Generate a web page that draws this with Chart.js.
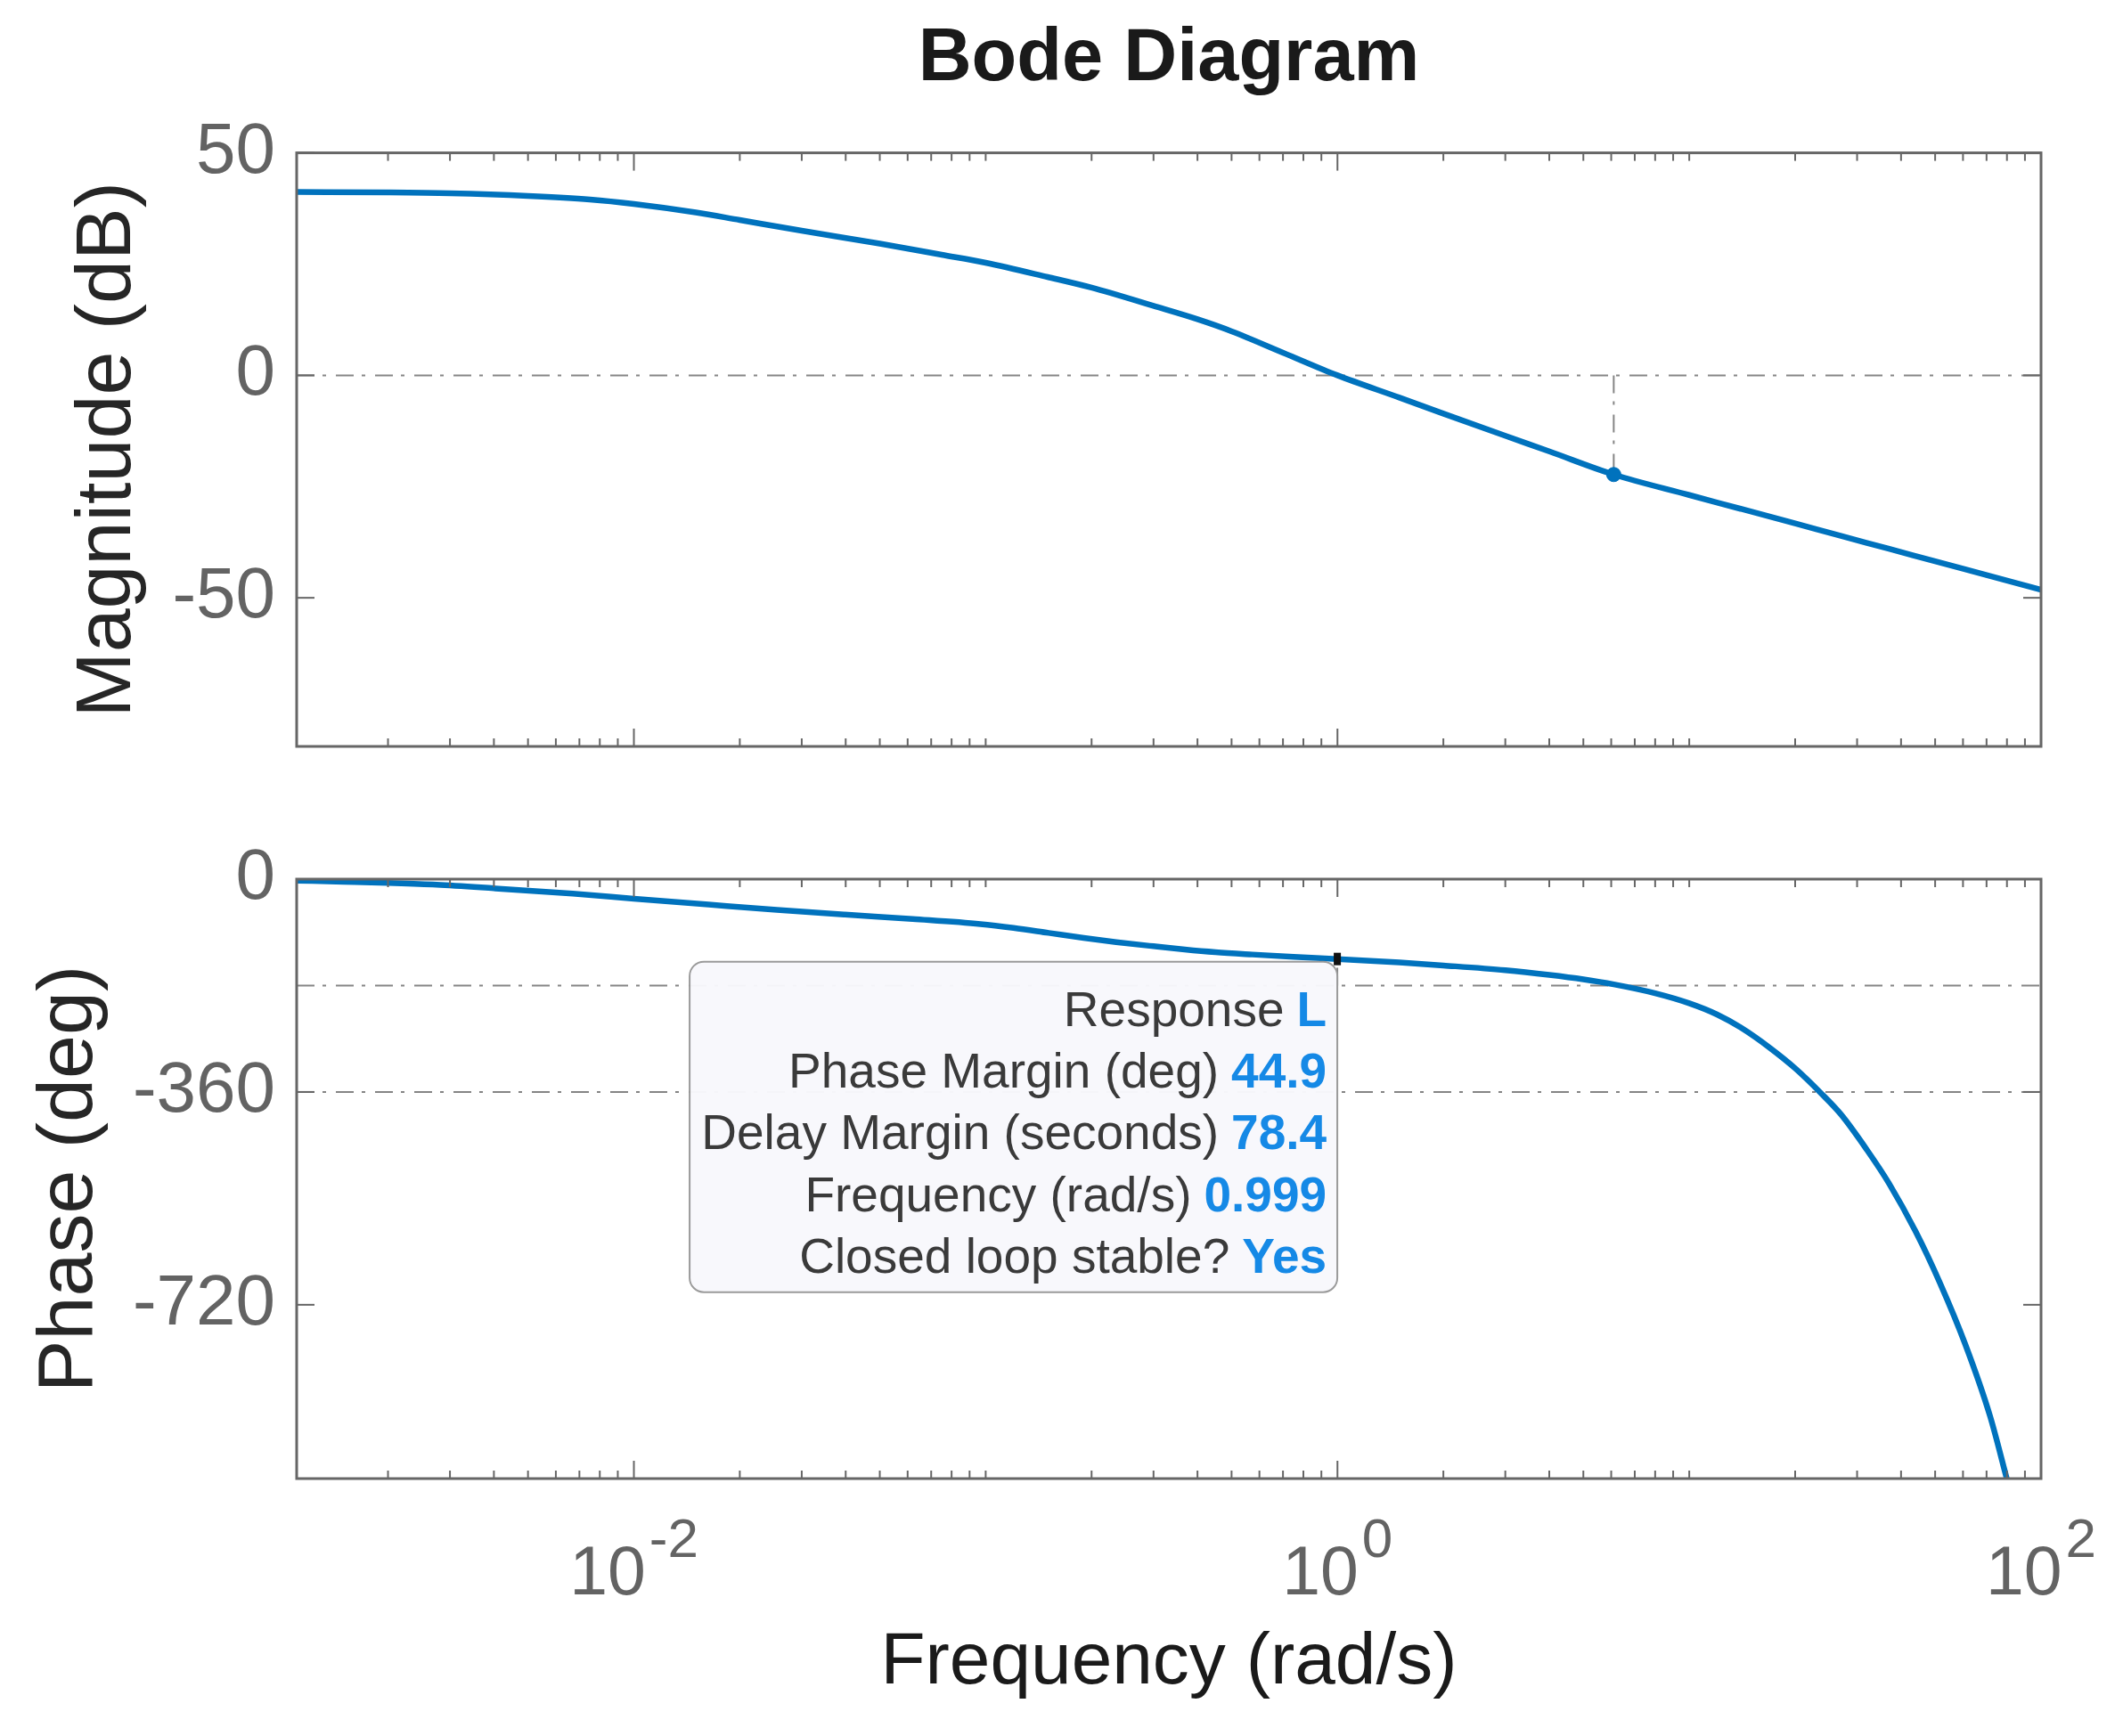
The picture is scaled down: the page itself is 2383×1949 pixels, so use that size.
<!DOCTYPE html>
<html>
<head>
<meta charset="utf-8">
<title>Bode Diagram</title>
<script src="https://cdn.jsdelivr.net/npm/chart.js@4.4.1/dist/chart.umd.min.js"></script>
<style>
  html, body { margin: 0; padding: 0; background: #fff; }
  #wrap { position: relative; width: 2383px; height: 1949px; overflow: hidden; }
  canvas { position: absolute; left: 0; }
  #magCanvas { top: 0; }
  #phaseCanvas { top: 900px; }
</style>
</head>
<body>
<div id="wrap">
  <canvas id="magCanvas" width="2383" height="910"></canvas>
  <canvas id="phaseCanvas" width="2383" height="1049"></canvas>
</div>
<script>
// values
var freq  = [0.0011, 0.002, 0.003, 0.005, 0.0075, 0.01, 0.015, 0.02, 0.03, 0.05, 0.075, 0.1, 0.15, 0.2, 0.3, 0.4, 0.5, 0.7, 1.0, 1.5, 2, 3, 4, 6.1, 10, 14, 20, 27, 37, 50, 70, 100];
var magDb = [41.2, 41.1, 40.9, 40.3, 39.5, 38.5, 36.6, 34.9, 32.5, 29.6, 27.1, 25.3, 22.1, 19.7, 15.6, 12.6, 9.9, 5.1, 0, -5.0, -8.6, -13.6, -17.1, -22.3, -26.9, -30.0, -33.3, -36.1, -39.0, -41.8, -44.9, -48.2];

var phaseFreq = [0.0011, 0.0015, 0.002, 0.00275, 0.004, 0.0067, 0.01, 0.0163, 0.0255, 0.0398, 0.062, 0.0966, 0.12, 0.151, 0.19, 0.235, 0.3, 0.368, 0.45, 0.573, 0.75, 1.0, 1.5, 2, 3, 4, 5, 6.1, 8, 10, 12, 14, 17, 20, 23.5, 27, 32, 37, 44, 51.5, 61, 71.6, 80.4, 85];
var phaseDeg  = [-2.5, -4.5, -6.5, -9.5, -15.5, -24.6, -33, -43, -52, -60, -67.5, -76, -82.5, -91, -99.5, -106.5, -113.5, -119, -123.5, -127.5, -131.5, -135.1, -141, -146, -154, -162, -169.5, -178, -193, -210, -229, -251, -286, -320, -360, -398, -458, -515, -596, -682, -788, -908, -1020, -1073];

var xRange = [0.0011, 100];
var magRange = [-83.4, 50];
var phaseRange = [-1014, 0];
var magTicks = [-50, 0, 50];
var phaseTicks = [-720, -360, 0];
var xLabelExps = [-2, 0, 2];

// stability margins
var gmFreq = 6.1, gmDb = -22.3;
var pmFreq = 0.999, pmDeg = -135.1;
var magRefLine = 0;
var phaseRefLines = [-180, -360];

var tipLabels = ['Response', 'Phase Margin (deg)', 'Delay Margin (seconds)', 'Frequency (rad/s)', 'Closed loop stable?'];
var tipValues = ['L', '44.9', '78.4', '0.999', 'Yes'];

var FONT = '"Liberation Sans", Arial, Helvetica, sans-serif';
var BLUE = '#0072BD';
var DASHDOT = [20, 9, 4, 11];

function pts(xs, ys) {
  return xs.map(function (x, i) { return {x: x, y: ys[i]}; });
}

function refLine(data) {
  return {
    data: data, borderColor: '#858585', borderWidth: 2, borderDash: DASHDOT,
    pointRadius: 0, fill: false, clip: 0
  };
}

// box, inward ticks and log minor ticks like a MATLAB axes
var axesBox = {
  id: 'axesBox',
  afterDatasetsDraw: function (chart, args, opts) {
    var ctx = chart.ctx, a = chart.chartArea, xs = chart.scales.x, ys = chart.scales.y;
    ctx.save();
    ctx.strokeStyle = '#666';
    ctx.lineWidth = 2;
    function seg(x1, y1, x2, y2) {
      ctx.beginPath(); ctx.moveTo(x1, y1); ctx.lineTo(x2, y2); ctx.stroke();
    }
    opts.yTicks.forEach(function (v) {
      var y = ys.getPixelForValue(v);
      seg(a.left, y, a.left + 20, y);
      seg(a.right - 20, y, a.right, y);
    });
    var e0 = Math.floor(Math.log10(xs.min)), e1 = Math.ceil(Math.log10(xs.max));
    for (var e = e0; e <= e1; e++) {
      for (var m = 1; m <= 9; m++) {
        var v = m * Math.pow(10, e);
        if (v < xs.min * 0.999 || v > xs.max * 1.001) continue;
        var len = (m === 1 && xLabelExps.indexOf(e) >= 0) ? 20 : 9;
        var x = xs.getPixelForValue(v);
        seg(x, a.bottom, x, a.bottom - len);
        seg(x, a.top, x, a.top + len);
      }
    }
    ctx.lineWidth = 3;
    ctx.strokeRect(a.left, a.top, a.right - a.left, a.bottom - a.top);
    ctx.restore();
  }
};

// 10^k labels under the phase axes
var expLabels = {
  id: 'expLabels',
  afterDraw: function (chart) {
    var ctx = chart.ctx, a = chart.chartArea, xs = chart.scales.x;
    ctx.save();
    ctx.fillStyle = '#636363';
    ctx.textBaseline = 'alphabetic';
    ctx.textAlign = 'left';
    xLabelExps.forEach(function (k) {
      var base = '10', sup = String(k);
      ctx.font = '77px ' + FONT;
      var bw = ctx.measureText(base).width;
      ctx.font = '62px ' + FONT;
      var sw = ctx.measureText(sup).width;
      var x0 = xs.getPixelForValue(Math.pow(10, k)) - (bw + sw + 4) / 2;
      ctx.font = '77px ' + FONT;
      ctx.fillText(base, x0, a.bottom + 130);
      ctx.font = '62px ' + FONT;
      ctx.fillText(sup, x0 + bw + 4, a.bottom + 88);
    });
    ctx.restore();
  }
};

// MATLAB style data tip for the phase margin
var dataTip = {
  id: 'dataTip',
  afterDatasetsDraw: function (chart) {
    var ctx = chart.ctx;
    var ax = chart.scales.x.getPixelForValue(pmFreq);
    var ay = chart.scales.y.getPixelForValue(pmDeg);
    var w = 727, h = 371, left = ax - w, top = ay + 3;
    ctx.save();
    ctx.beginPath();
    ctx.roundRect(left, top, w, h, 16);
    ctx.fillStyle = 'rgba(248,248,252,0.97)';
    ctx.fill();
    ctx.strokeStyle = '#9a9a9a';
    ctx.lineWidth = 2;
    ctx.stroke();
    ctx.textBaseline = 'alphabetic';
    ctx.textAlign = 'right';
    var rx = ax - 12;
    tipLabels.forEach(function (lab, i) {
      var by = top + 72 + i * 69.3;
      ctx.font = 'bold 55px ' + FONT;
      var vw = ctx.measureText(tipValues[i]).width;
      ctx.fillStyle = '#1589e6';
      ctx.fillText(tipValues[i], rx, by);
      ctx.font = '55px ' + FONT;
      ctx.fillStyle = '#3a3a3a';
      ctx.fillText(lab, rx - vw - 14, by);
    });
    ctx.fillStyle = '#111';
    ctx.fillRect(ax - 4, ay - 7, 8, 14);
    ctx.restore();
  }
};

function yScale(range, ticks, titleText, leftPad) {
  return {
    type: 'linear', min: range[0], max: range[1],
    afterBuildTicks: function (s) { s.ticks = ticks.map(function (v) { return {value: v}; }); },
    afterFit: function (s) { s.width = 333 - leftPad; },
    grid: {display: false, drawTicks: false},
    border: {display: false},
    ticks: {
      padding: 24, color: '#636363', font: {family: FONT, size: 80},
      callback: function (v) { return String(v); }
    },
    title: {display: true, text: titleText, color: '#262626', padding: 0, font: {family: FONT, size: 88}}
  };
}

var magChart = new Chart(document.getElementById('magCanvas'), {
  type: 'line',
  data: {
    datasets: [
      {data: pts(freq, magDb), borderColor: BLUE, borderWidth: 6.5, pointRadius: 0, cubicInterpolationMode: 'monotone', clip: 0},
      {data: [{x: gmFreq, y: gmDb}], borderColor: BLUE, backgroundColor: BLUE, pointRadius: 8, showLine: false},
      refLine([{x: xRange[0], y: magRefLine}, {x: xRange[1], y: magRefLine}]),
      refLine([{x: gmFreq, y: magRefLine}, {x: gmFreq, y: gmDb}])
    ]
  },
  options: {
    responsive: false, animation: false, events: [],
    layout: {padding: {left: 69, right: 92, top: 0, bottom: 60}},
    plugins: {
      legend: {display: false}, tooltip: {enabled: false},
      title: {
        display: true, text: 'Bode Diagram', fullSize: false, color: '#1a1a1a',
        font: {family: FONT, size: 83, weight: 'bold'}, padding: {top: 17, bottom: 55}
      },
      axesBox: {yTicks: magTicks}
    },
    scales: {
      x: {type: 'logarithmic', min: xRange[0], max: xRange[1], display: false},
      y: yScale(magRange, magTicks, 'Magnitude (dB)', 69)
    }
  },
  plugins: [axesBox]
});

var phaseSets = [
  {data: pts(phaseFreq, phaseDeg), borderColor: BLUE, borderWidth: 6.5, pointRadius: 0, cubicInterpolationMode: 'monotone', clip: 0},
  refLine([{x: pmFreq, y: phaseRefLines[0]}, {x: pmFreq, y: pmDeg}])
];
phaseRefLines.forEach(function (v) {
  phaseSets.push(refLine([{x: xRange[0], y: v}, {x: xRange[1], y: v}]));
});

var phaseChart = new Chart(document.getElementById('phaseCanvas'), {
  type: 'line',
  data: {datasets: phaseSets},
  options: {
    responsive: false, animation: false, events: [],
    layout: {padding: {left: 26, right: 92, top: 87, bottom: 0}},
    plugins: {
      legend: {display: false}, tooltip: {enabled: false},
      axesBox: {yTicks: phaseTicks}
    },
    scales: {
      x: {
        type: 'logarithmic', min: xRange[0], max: xRange[1],
        afterFit: function (s) { s.height = 289; },
        grid: {display: false, drawTicks: false},
        border: {display: false},
        ticks: {display: false},
        title: {display: true, text: 'Frequency (rad/s)', color: '#1a1a1a', padding: {top: 0, bottom: 32}, font: {family: FONT, size: 82}}
      },
      y: yScale(phaseRange, phaseTicks, 'Phase (deg)', 26)
    }
  },
  plugins: [axesBox, dataTip, expLabels]
});
</script>
</body>
</html>
